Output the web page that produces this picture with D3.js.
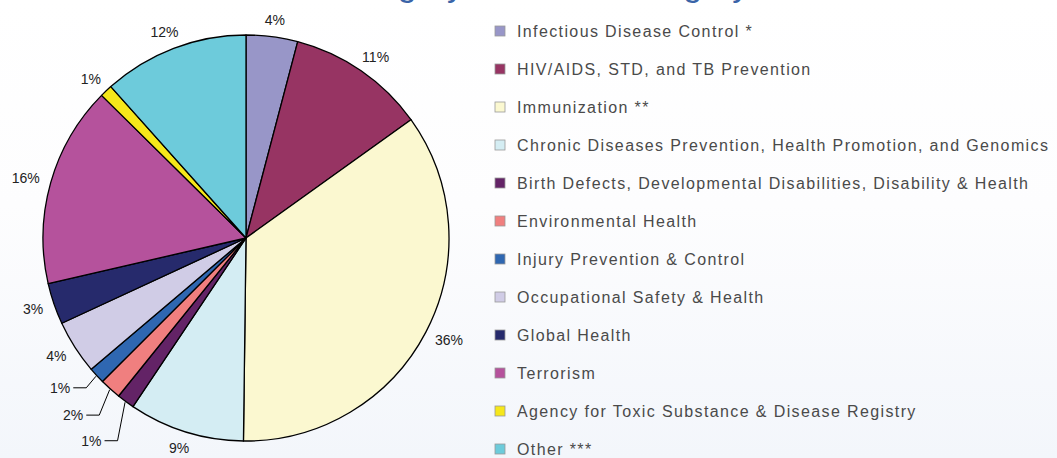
<!DOCTYPE html>
<html><head><meta charset="utf-8">
<script src="https://cdn.jsdelivr.net/npm/d3@7"></script>
<style>
html,body{margin:0;padding:0;background:#fff;}
svg{display:block;}
</style></head>
<body>
<svg id="chart" width="1057" height="458"></svg>
<script>
// ---- data ----
const categories = [
  "Infectious Disease Control *",
  "HIV/AIDS, STD, and TB Prevention",
  "Immunization **",
  "Chronic Diseases Prevention, Health Promotion, and Genomics",
  "Birth Defects, Developmental Disabilities, Disability & Health",
  "Environmental Health",
  "Injury Prevention & Control",
  "Occupational Safety & Health",
  "Global Health",
  "Terrorism",
  "Agency for Toxic Substance & Disease Registry",
  "Other ***"
];
const shares = [4.1, 11.0, 35.1, 9.2, 1.4, 1.7, 1.3, 4.3, 3.3, 16.0, 1.0, 11.6];
const percentLabels = ["4%", "11%", "36%", "9%", "1%", "2%", "1%", "4%", "3%", "16%", "1%", "12%"];
const colors = ["#9896c8", "#973463", "#fbf8d0", "#d4edf3", "#632366", "#f07f7f",
                "#2f67b1", "#d0cce6", "#262a6c", "#b5529c", "#f6e71a", "#6dcbdb"];
const titleText = "Category and Sub-Category";

// ---- layout ----
const W = 1057, H = 458;
const cx = 246, cy = 238, R = 203;
const labelR = 215;
// leader-line labels: index -> elbow radius & angle shift (degrees)
const leaders = {4: {r: 240, shift: -4.0}, 5: {r: 230, shift: -2.3}, 6: {r: 219, shift: -0.5}};

const svg = d3.select("#chart");
const defs = svg.append("defs");
const grad = defs.append("linearGradient").attr("id", "bg").attr("x1", 0).attr("y1", 0).attr("x2", 0).attr("y2", 1);
grad.append("stop").attr("offset", "0%").attr("stop-color", "#ffffff");
grad.append("stop").attr("offset", "45%").attr("stop-color", "#fdfdfe");
grad.append("stop").attr("offset", "100%").attr("stop-color", "#f3f6fb");
svg.append("rect").attr("width", W).attr("height", H).attr("fill", "url(#bg)");

// title (mostly cut off at top)
svg.append("text").attr("x", 326).attr("y", -4)
  .attr("font-family", "Liberation Sans, Arial, sans-serif").attr("font-size", 34)
  .attr("fill", "#3a64a8").text(titleText);

const data = categories.map((c, i) => ({name: c, value: shares[i], label: percentLabels[i], color: colors[i], i}));

const pie = d3.pie().sort(null).value(d => d.value);
const arcs = pie(data);
const arc = d3.arc().innerRadius(0).outerRadius(R);

const g = svg.append("g").attr("transform", `translate(${cx},${cy})`);
g.selectAll("path.slice").data(arcs).join("path")
  .attr("class", "slice")
  .attr("d", arc)
  .attr("fill", d => d.data.color)
  .attr("stroke", "#000")
  .attr("stroke-width", 1.3)
  .attr("stroke-linejoin", "round");

const pt = (ang, r) => [r * Math.sin(ang), -r * Math.cos(ang)];
const font = "Liberation Sans, Arial, sans-serif";

arcs.forEach(a => {
  const mid = (a.startAngle + a.endAngle) / 2;
  const lead = leaders[a.data.i];
  if (lead) {
    const edge = pt(mid, R + 1);
    const elbow = pt(mid + lead.shift * Math.PI / 180, lead.r);
    const end = [elbow[0] - 13, elbow[1]];
    g.append("path")
      .attr("d", d3.line()([edge, elbow, end]))
      .attr("fill", "none").attr("stroke", "#000").attr("stroke-width", 1);
    g.append("text")
      .attr("x", end[0] - 3).attr("y", end[1])
      .attr("text-anchor", "end").attr("dominant-baseline", "central")
      .attr("font-family", font).attr("font-size", 14)
      .attr("fill", "#222").text(a.data.label);
  } else {
    const t = g.append("text")
      .attr("text-anchor", "middle").attr("dominant-baseline", "central")
      .attr("font-family", font).attr("font-size", 14)
      .attr("fill", "#222").text(a.data.label);
    const w = t.node().getComputedTextLength(), h = 10;
    const p = pt(mid, labelR);
    t.attr("x", p[0] + (w / 2) * Math.sin(mid))
     .attr("y", p[1] - (h / 2) * Math.cos(mid));
  }
});

// legend
const ly = d3.scalePoint().domain(d3.range(categories.length)).range([31, 449]);
const leg = svg.append("g");
const rows = leg.selectAll("g").data(data).join("g")
  .attr("transform", d => `translate(495,${ly(d.i)})`);
rows.append("rect").attr("x", 0).attr("y", -5).attr("width", 10).attr("height", 10)
  .attr("fill", d => d.color).attr("stroke", "#9a9a9a").attr("stroke-width", 0.8);
rows.append("text").attr("x", 22).attr("y", 0).attr("dominant-baseline", "central")
  .attr("font-family", font).attr("font-size", 16)
  .attr("letter-spacing", "1.38px")
  .attr("fill", "#4a4a4a").text(d => d.name);
</script>
</body></html>
